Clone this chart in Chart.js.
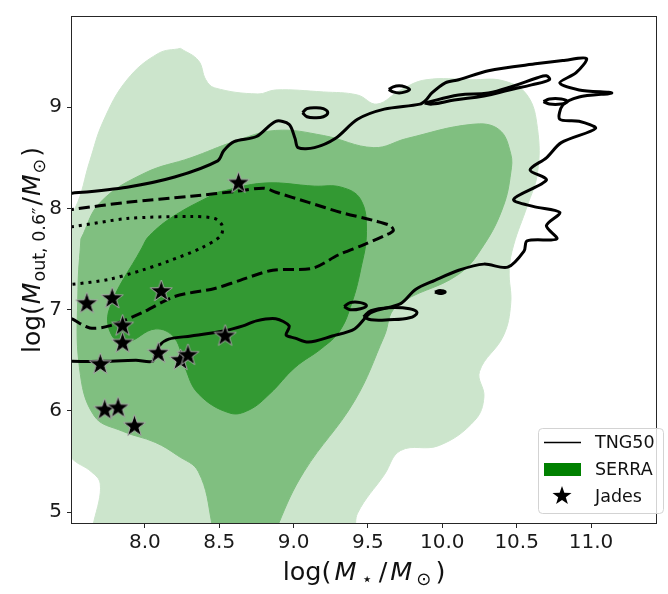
<!DOCTYPE html>
<html>
<head>
<meta charset="utf-8">
<script src="https://cdn.jsdelivr.net/npm/chart.js@4.4.1/dist/chart.umd.min.js"></script>
<style>
  html, body { margin: 0; padding: 0; background: #fff; }
  #wrap { width: 668px; height: 594px; }
</style>
</head>
<body>
<div id="wrap"><canvas id="myChart" width="668" height="594"></canvas></div>
<script>
// tick labels
const xTicks = [8.0, 8.5, 9.0, 9.5, 10.0, 10.5, 11.0]
const yTicks = [5, 6, 7, 8, 9]

// SERRA filled contours, [log M*, log Mout]
const serraOuter = [[8.24,9.58],[8.36,9.46],[8.41,9.27],[8.47,9.19],[8.76,9.13],[8.88,9.17],[9.2,9.15],[9.43,9.12],[9.56,9.03],[9.72,9.17],[9.89,9.27],[10.2,9.27],[10.41,9.26],[10.57,9.12],[10.64,8.79],[10.64,8.35],[10.57,8.02],[10.48,7.64],[10.45,7.39],[10.46,7.06],[10.41,6.74],[10.25,6.39],[10.28,6.14],[10.22,5.91],[9.98,5.66],[9.72,5.61],[9.61,5.37],[9.43,4.99],[9.38,4.7],[7.70,4.7],[7.70,5.28],[7.64,5.40],[7.51,5.53],[7.44,5.7],[7.44,7.9],[7.53,8.0],[7.63,8.47],[7.72,8.86],[7.88,9.27],[8.09,9.53],[8.24,9.58]]
const serraMid = [[7.57,7.70],[7.70,8.06],[8.0,8.35],[8.31,8.50],[8.6,8.66],[8.88,8.77],[9.2,8.72],[9.54,8.60],[9.76,8.69],[10.20,8.83],[10.38,8.78],[10.46,8.54],[10.46,8.35],[10.41,8.02],[10.28,7.64],[10.11,7.35],[9.69,7.03],[9.61,6.74],[9.41,6.10],[9.07,5.40],[8.90,4.89],[8.87,4.7],[8.45,4.7],[8.45,4.89],[8.36,5.40],[8.22,5.56],[8.07,5.69],[7.85,5.80],[7.66,5.95],[7.56,6.43],[7.55,7.2],[7.57,7.70]]
const serraInner = [[8.49,8.16],[8.80,8.25],[9.14,8.22],[9.32,8.21],[9.45,8.09],[9.49,7.77],[9.45,7.39],[9.39,7.06],[9.31,6.79],[9.19,6.62],[9.01,6.43],[8.84,6.17],[8.70,6.01],[8.57,5.98],[8.36,6.17],[8.27,6.43],[8.20,6.72],[8.07,6.81],[7.88,6.68],[7.78,6.74],[7.76,7.0],[7.98,7.61],[8.03,7.73],[8.20,7.93],[8.49,8.16]]

// TNG50 contour lines
const tngOuter = [[7.45,6.49],[7.51,6.49],[7.70,6.49],[7.94,6.50],[8.05,6.49],[8.07,6.56],[8.10,6.65],[8.16,6.71],[8.31,6.74],[8.53,6.79],[8.66,6.84],[8.75,6.89],[8.88,6.91],[8.97,6.84],[8.95,6.75],[9.01,6.72],[9.10,6.68],[9.26,6.74],[9.41,6.81],[9.52,6.97],[9.72,7.06],[9.82,7.20],[9.95,7.29],[10.11,7.39],[10.28,7.45],[10.44,7.42],[10.55,7.58],[10.57,7.68],[10.77,7.70],[10.70,7.83],[10.79,7.96],[10.61,8.02],[10.48,8.09],[10.70,8.28],[10.59,8.38],[10.70,8.50],[10.80,8.65],[11.03,8.79],[10.92,8.86],[10.79,8.88],[10.81,9.02],[10.92,9.10],[11.14,9.14],[10.92,9.17],[10.79,9.24],[10.90,9.34],[10.97,9.48],[10.81,9.46],[10.64,9.43],[10.31,9.36],[10.11,9.27],[10.02,9.24],[9.93,9.14],[9.89,9.07],[9.85,9.03],[9.61,8.98],[9.43,8.88],[9.28,8.69],[9.14,8.60],[9.03,8.60],[9.01,8.69],[8.97,8.83],[8.88,8.86],[8.75,8.71],[8.60,8.66],[8.53,8.57],[8.49,8.47],[8.20,8.31],[7.88,8.21],[7.51,8.15],[7.45,8.15]]
const tngIslands = [
  [[9.06,8.945],[9.09,8.985],[9.145,8.995],[9.20,8.985],[9.23,8.945],[9.20,8.905],[9.145,8.895],[9.09,8.905],[9.06,8.945]],
  [[9.64,9.175],[9.67,9.2],[9.71,9.21],[9.75,9.2],[9.78,9.175],[9.75,9.15],[9.71,9.14],[9.67,9.15],[9.64,9.175]],
  [[9.47,6.93],[9.52,6.99],[9.64,7.02],[9.78,7.01],[9.83,6.97],[9.78,6.92],[9.64,6.90],[9.52,6.90],[9.47,6.93]],
  [[9.95,7.175],[9.985,7.19],[10.02,7.175],[9.985,7.16],[9.95,7.175]],
  [[9.34,7.03],[9.38,7.07],[9.45,7.07],[9.49,7.04],[9.45,7.01],[9.38,7.0],[9.34,7.03]],
  [[10.68,9.055],[10.72,9.08],[10.80,9.08],[10.84,9.055],[10.80,9.03],[10.72,9.03],[10.68,9.055]],
  [[9.88,9.04],[10.11,9.12],[10.31,9.14],[10.48,9.21],[10.64,9.29],[10.70,9.31],[10.72,9.27],[10.60,9.22],[10.45,9.17],[10.28,9.11],[10.08,9.07],[9.93,9.03],[9.88,9.04]]
]
const tngMid = [[7.45,7.98],[7.51,7.99],[7.88,8.06],[8.31,8.12],[8.62,8.17],[8.80,8.20],[8.88,8.16],[9.10,8.06],[9.32,7.96],[9.54,7.88],[9.65,7.83],[9.67,7.78],[9.61,7.73],[9.47,7.64],[9.30,7.54],[9.13,7.41],[8.86,7.39],[8.64,7.29],[8.47,7.21],[8.20,7.13],[7.98,6.97],[7.76,6.84],[7.63,6.82],[7.51,6.91],[7.45,6.95]]
const tngInner = [[7.45,7.83],[7.51,7.82],[7.88,7.90],[8.31,7.92],[8.47,7.90],[8.52,7.83],[8.51,7.73],[8.38,7.61],[8.16,7.48],[7.98,7.39],[7.76,7.30],[7.51,7.25],[7.45,7.25]]

// Jades galaxies
const jadesX = [8.63, 7.61, 7.78, 8.11, 7.85, 7.85, 7.70, 8.09, 8.24, 8.29, 8.54, 7.73, 7.82, 7.93]
const jadesY = [8.25, 7.06, 7.11, 7.18, 6.84, 6.67, 6.46, 6.57, 6.50, 6.55, 6.74, 6.01, 6.03, 5.85]

const FONT = '"DejaVu Sans", sans-serif'

function makeStar(r, edge) {
    const c = document.createElement('canvas')
    const s = Math.ceil(2 * r + 4)
    c.width = s
    c.height = s
    const g = c.getContext('2d')
    g.translate(s / 2, s / 2)
    g.beginPath()
    for (let i = 0; i < 10; i++) {
        const rr = i % 2 ? r * 0.4 : r
        const a = -Math.PI / 2 + i * Math.PI / 5
        g.lineTo(rr * Math.cos(a), rr * Math.sin(a))
    }
    g.closePath()
    g.fillStyle = '#000'
    g.fill()
    if (edge) {
        g.strokeStyle = edge
        g.lineWidth = 1
        g.stroke()
    }
    return c
}

const starImg = makeStar(11.5, '#a8a8a8')
const legendStar = makeStar(10, null)

const pts = arr => arr.map(p => ({x: p[0], y: p[1]}))

const area = (arr, color, order) => ({
    data: pts(arr), showLine: true, fill: 'shape',
    backgroundColor: color, borderColor: color, borderWidth: 1,
    pointRadius: 0, tension: 0.4, order, clip: 0
})
const contour = (arr, dash, tension) => ({
    data: pts(arr), showLine: true, fill: false,
    borderColor: '#000', borderWidth: 3, borderDash: dash,
    pointRadius: 0, tension, order: 1, clip: 0
})

// draw "math" text in pieces: [text, size, italic, dy, gapAfter]
function mathText(ctx, parts, cx, y) {
    const font = p => (p[2] ? 'italic ' : '') + p[1] + 'px ' + FONT
    let w = 0
    parts.forEach(p => { ctx.font = font(p); w += ctx.measureText(p[0]).width + (p[4] || 0) })
    let x = cx - w / 2
    parts.forEach(p => {
        ctx.font = font(p)
        ctx.fillText(p[0], x, y + p[3])
        x += ctx.measureText(p[0]).width + (p[4] || 0)
    })
}

const xTitle = [['log(', 25.5, false, 0, 3], ['M', 25.5, true, 0, 5], ['\u22C6', 18, false, 5, 6], ['/', 25.5, false, 0, 3], ['M', 25.5, true, 0, 4], ['\u2299', 18, false, 5, 4], [')', 25.5, false, 0]]
const yTitle = [['log(', 25, false, 0, 1], ['M', 25, true, 0, 1], ['out, 0.6\u2033', 17.5, false, 5, 2], ['/', 25, false, 0, 1], ['M', 25, true, 0, 1], ['\u2299', 17.5, false, 5, 2], [')', 25, false, 0]]

const decor = {
    id: 'decor',
    afterDraw(chart) {
        const {ctx, chartArea: a} = chart
        ctx.save()
        // frame
        ctx.strokeStyle = '#262626'
        ctx.lineWidth = 1
        ctx.strokeRect(a.left - 0.5, a.top - 0.5, a.right - a.left + 1, a.bottom - a.top + 1)

        // axis titles
        ctx.fillStyle = '#111'
        ctx.textBaseline = 'alphabetic'
        ctx.textAlign = 'left'
        mathText(ctx, xTitle, (a.left + a.right) / 2, 580)
        ctx.save()
        ctx.translate(40, 250)
        ctx.rotate(-Math.PI / 2)
        mathText(ctx, yTitle, 0, 0)
        ctx.restore()

        // legend
        const bx = 538, by = 428, bw = 125, bh = 85
        ctx.beginPath()
        ctx.roundRect(bx + 0.5, by + 0.5, bw, bh, 4)
        ctx.fillStyle = 'rgba(255,255,255,0.8)'
        ctx.fill()
        ctx.strokeStyle = '#d3d3d3'
        ctx.stroke()

        ctx.strokeStyle = '#000'
        ctx.lineWidth = 1.5
        ctx.beginPath()
        ctx.moveTo(544, 442.5)
        ctx.lineTo(581, 442.5)
        ctx.stroke()
        ctx.fillStyle = '#008000'
        ctx.fillRect(544, 463, 37, 13)
        ctx.drawImage(legendStar, 562 - legendStar.width / 2, 496 - legendStar.height / 2)

        ctx.fillStyle = '#111'
        ctx.font = '17.5px ' + FONT
        ctx.textBaseline = 'middle'
        ctx.fillText('TNG50', 595, 443)
        ctx.fillText('SERRA', 595, 470)
        ctx.fillText('Jades', 595, 497)
        ctx.restore()
    }
}

const datasets = [
    {
        label: 'Jades',
        data: jadesX.map((x, i) => ({x, y: jadesY[i]})),
        pointStyle: starImg, pointRadius: 11, showLine: false, order: 0
    },
    contour(tngOuter, [], 0.3),
    contour(tngMid, [11, 5], 0.3),
    contour(tngInner, [3, 5], 0.3),
    ...tngIslands.map(isl => contour(isl, [], 0.4)),
    area(serraInner, '#339933', 2),
    area(serraMid, '#80bf80', 3),
    area(serraOuter, '#cce5cc', 4)
]

const config = {
    type: 'scatter',
    data: { datasets },
    options: {
        responsive: false,
        animation: false,
        events: [],
        layout: { padding: { top: 2, right: 1, left: 0, bottom: 0 } },
        scales: {
            x: {
                type: 'linear', min: 7.51, max: 11.437,
                afterBuildTicks: s => { s.ticks = xTicks.map(v => ({value: v})) },
                afterFit: s => { s.height = 71 },
                ticks: {
                    callback: v => v.toFixed(1),
                    color: '#1a1a1a', font: {family: FONT, size: 20}, padding: 3,
                    maxRotation: 0, autoSkip: false
                },
                grid: { drawOnChartArea: false, drawTicks: true, tickLength: 5, color: '#262626' },
                border: { display: false }
            },
            y: {
                type: 'linear', min: 4.894, max: 9.89,
                afterBuildTicks: s => { s.ticks = yTicks.map(v => ({value: v})) },
                afterFit: s => { s.width = 72 },
                ticks: {
                    callback: v => String(v),
                    color: '#1a1a1a', font: {family: FONT, size: 20}, padding: 5,
                    autoSkip: false
                },
                grid: { drawOnChartArea: false, drawTicks: true, tickLength: 5, color: '#262626' },
                border: { display: false }
            }
        },
        plugins: {
            legend: { display: false },
            tooltip: { enabled: false }
        }
    },
    plugins: [decor]
}

const myChart = new Chart(document.getElementById('myChart'), config)
</script>
</body>
</html>
